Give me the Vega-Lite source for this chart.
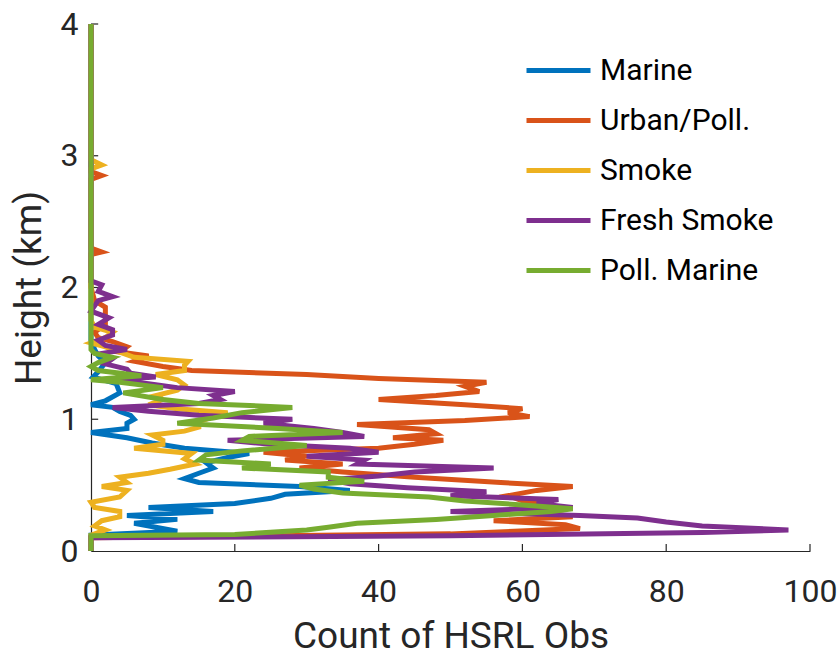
{
  "$schema": "https://vega.github.io/schema/vega-lite/v6.json",
  "width": 719,
  "height": 527,
  "autosize": {"type": "none"},
  "padding": {"left": 91, "top": 24, "right": 27, "bottom": 106},
  "background": "white",
  "config": {
    "view": {"stroke": null},
    "font": "Roboto",
    "axis": {
      "domainColor": "#262626", "tickColor": "#262626", "labelColor": "#262626", "titleColor": "#262626",
      "labelFont": "Roboto", "titleFont": "Roboto", "labelFontSize": 32, "titleFontSize": 37,
      "titleFontWeight": "normal", "grid": false, "ticks": false, "domainWidth": 1.2,
      "labelFlush": false, "labelOverlap": false
    },
    "legend": {"labelFont": "Roboto", "labelFontSize": 30, "labelColor": "#000000"}
  },
  "datasets": {
    "profiles": [
    {"s":"Marine","h":0,"c":0},{"s":"Marine","h":0.12,"c":0},{"s":"Marine","h":0.15,"c":12},{"s":"Marine","h":0.18,"c":9},{"s":"Marine","h":0.21,"c":6},{"s":"Marine","h":0.24,"c":12},{"s":"Marine","h":0.27,"c":5},{"s":"Marine","h":0.30,"c":17},{"s":"Marine","h":0.33,"c":8},{"s":"Marine","h":0.36,"c":20},{"s":"Marine","h":0.40,"c":25},{"s":"Marine","h":0.43,"c":27},{"s":"Marine","h":0.46,"c":36},{"s":"Marine","h":0.49,"c":29},{"s":"Marine","h":0.52,"c":15},{"s":"Marine","h":0.55,"c":13},{"s":"Marine","h":0.59,"c":15},{"s":"Marine","h":0.63,"c":17},{"s":"Marine","h":0.67,"c":16},{"s":"Marine","h":0.71,"c":19},{"s":"Marine","h":0.74,"c":22},{"s":"Marine","h":0.78,"c":13},{"s":"Marine","h":0.82,"c":8.5},{"s":"Marine","h":0.86,"c":5},{"s":"Marine","h":0.90,"c":0},{"s":"Marine","h":0.93,"c":5},{"s":"Marine","h":0.97,"c":5},{"s":"Marine","h":1.00,"c":6},{"s":"Marine","h":1.03,"c":5.5},{"s":"Marine","h":1.06,"c":4},{"s":"Marine","h":1.09,"c":3},{"s":"Marine","h":1.11,"c":0},{"s":"Marine","h":1.14,"c":2},{"s":"Marine","h":1.20,"c":4},{"s":"Marine","h":1.27,"c":3.5},{"s":"Marine","h":1.32,"c":0.3},{"s":"Marine","h":1.36,"c":1},{"s":"Marine","h":1.43,"c":2},{"s":"Marine","h":1.48,"c":1},{"s":"Marine","h":1.53,"c":0.5},{"s":"Marine","h":1.60,"c":0},{"s":"Marine","h":4,"c":0},

    {"s":"Urban/Poll.","h":0,"c":0},{"s":"Urban/Poll.","h":0.10,"c":0},{"s":"Urban/Poll.","h":0.13,"c":50},{"s":"Urban/Poll.","h":0.17,"c":68},{"s":"Urban/Poll.","h":0.20,"c":66},{"s":"Urban/Poll.","h":0.23,"c":56},{"s":"Urban/Poll.","h":0.26,"c":67},{"s":"Urban/Poll.","h":0.30,"c":62},{"s":"Urban/Poll.","h":0.34,"c":64},{"s":"Urban/Poll.","h":0.38,"c":60},{"s":"Urban/Poll.","h":0.42,"c":58},{"s":"Urban/Poll.","h":0.46,"c":62},{"s":"Urban/Poll.","h":0.49,"c":67},{"s":"Urban/Poll.","h":0.52,"c":57},{"s":"Urban/Poll.","h":0.56,"c":45},{"s":"Urban/Poll.","h":0.60,"c":35},{"s":"Urban/Poll.","h":0.63,"c":29},{"s":"Urban/Poll.","h":0.66,"c":35},{"s":"Urban/Poll.","h":0.69,"c":27},{"s":"Urban/Poll.","h":0.72,"c":30},{"s":"Urban/Poll.","h":0.75,"c":24},{"s":"Urban/Poll.","h":0.78,"c":40},{"s":"Urban/Poll.","h":0.81,"c":45},{"s":"Urban/Poll.","h":0.84,"c":49},{"s":"Urban/Poll.","h":0.86,"c":42},{"s":"Urban/Poll.","h":0.89,"c":48},{"s":"Urban/Poll.","h":0.92,"c":47},{"s":"Urban/Poll.","h":0.96,"c":37},{"s":"Urban/Poll.","h":0.99,"c":52},{"s":"Urban/Poll.","h":1.02,"c":61},{"s":"Urban/Poll.","h":1.05,"c":58},{"s":"Urban/Poll.","h":1.08,"c":60},{"s":"Urban/Poll.","h":1.11,"c":52},{"s":"Urban/Poll.","h":1.15,"c":40},{"s":"Urban/Poll.","h":1.18,"c":48},{"s":"Urban/Poll.","h":1.21,"c":54},{"s":"Urban/Poll.","h":1.25,"c":52},{"s":"Urban/Poll.","h":1.28,"c":55},{"s":"Urban/Poll.","h":1.31,"c":40},{"s":"Urban/Poll.","h":1.34,"c":30},{"s":"Urban/Poll.","h":1.37,"c":14},{"s":"Urban/Poll.","h":1.40,"c":10},{"s":"Urban/Poll.","h":1.44,"c":6},{"s":"Urban/Poll.","h":1.48,"c":8},{"s":"Urban/Poll.","h":1.51,"c":4},{"s":"Urban/Poll.","h":1.55,"c":5},{"s":"Urban/Poll.","h":1.59,"c":3},{"s":"Urban/Poll.","h":1.62,"c":1},{"s":"Urban/Poll.","h":1.66,"c":0.5},{"s":"Urban/Poll.","h":1.72,"c":2},{"s":"Urban/Poll.","h":1.78,"c":2},{"s":"Urban/Poll.","h":1.85,"c":2},{"s":"Urban/Poll.","h":1.90,"c":0.5},{"s":"Urban/Poll.","h":2.0,"c":0},{"s":"Urban/Poll.","h":2.25,"c":0},{"s":"Urban/Poll.","h":2.27,"c":1.5},{"s":"Urban/Poll.","h":2.30,"c":0},{"s":"Urban/Poll.","h":2.82,"c":0},{"s":"Urban/Poll.","h":2.85,"c":1.5},{"s":"Urban/Poll.","h":2.88,"c":0},{"s":"Urban/Poll.","h":4,"c":0},

    {"s":"Smoke","h":0,"c":0},{"s":"Smoke","h":0.12,"c":0},{"s":"Smoke","h":0.16,"c":2},{"s":"Smoke","h":0.19,"c":0.5},{"s":"Smoke","h":0.23,"c":1.5},{"s":"Smoke","h":0.26,"c":4},{"s":"Smoke","h":0.30,"c":4},{"s":"Smoke","h":0.33,"c":0.5},{"s":"Smoke","h":0.37,"c":0},{"s":"Smoke","h":0.41,"c":4},{"s":"Smoke","h":0.46,"c":5},{"s":"Smoke","h":0.49,"c":1.5},{"s":"Smoke","h":0.52,"c":5},{"s":"Smoke","h":0.56,"c":4},{"s":"Smoke","h":0.59,"c":8},{"s":"Smoke","h":0.62,"c":11},{"s":"Smoke","h":0.66,"c":14.5},{"s":"Smoke","h":0.70,"c":13},{"s":"Smoke","h":0.74,"c":14},{"s":"Smoke","h":0.78,"c":6},{"s":"Smoke","h":0.81,"c":10},{"s":"Smoke","h":0.84,"c":10},{"s":"Smoke","h":0.88,"c":8.5},{"s":"Smoke","h":0.91,"c":13},{"s":"Smoke","h":0.94,"c":15},{"s":"Smoke","h":0.98,"c":15},{"s":"Smoke","h":1.02,"c":17},{"s":"Smoke","h":1.05,"c":19},{"s":"Smoke","h":1.08,"c":12},{"s":"Smoke","h":1.11,"c":8},{"s":"Smoke","h":1.15,"c":10},{"s":"Smoke","h":1.18,"c":9},{"s":"Smoke","h":1.22,"c":12},{"s":"Smoke","h":1.26,"c":13},{"s":"Smoke","h":1.30,"c":12},{"s":"Smoke","h":1.34,"c":9},{"s":"Smoke","h":1.37,"c":13},{"s":"Smoke","h":1.41,"c":13},{"s":"Smoke","h":1.44,"c":13.5},{"s":"Smoke","h":1.47,"c":6},{"s":"Smoke","h":1.51,"c":4},{"s":"Smoke","h":1.55,"c":2},{"s":"Smoke","h":1.58,"c":0},{"s":"Smoke","h":1.62,"c":2},{"s":"Smoke","h":1.66,"c":3},{"s":"Smoke","h":1.70,"c":0.5},{"s":"Smoke","h":1.75,"c":0},{"s":"Smoke","h":2.90,"c":0},{"s":"Smoke","h":2.93,"c":1.5},{"s":"Smoke","h":2.97,"c":0},{"s":"Smoke","h":4,"c":0},

    {"s":"Fresh Smoke","h":0,"c":0},{"s":"Fresh Smoke","h":0.10,"c":0},{"s":"Fresh Smoke","h":0.115,"c":50},{"s":"Fresh Smoke","h":0.14,"c":85},{"s":"Fresh Smoke","h":0.16,"c":97},{"s":"Fresh Smoke","h":0.19,"c":85},{"s":"Fresh Smoke","h":0.22,"c":80},{"s":"Fresh Smoke","h":0.25,"c":76},{"s":"Fresh Smoke","h":0.27,"c":68},{"s":"Fresh Smoke","h":0.30,"c":50},{"s":"Fresh Smoke","h":0.33,"c":67},{"s":"Fresh Smoke","h":0.36,"c":62},{"s":"Fresh Smoke","h":0.39,"c":65},{"s":"Fresh Smoke","h":0.42,"c":50},{"s":"Fresh Smoke","h":0.45,"c":55},{"s":"Fresh Smoke","h":0.48,"c":44},{"s":"Fresh Smoke","h":0.51,"c":36},{"s":"Fresh Smoke","h":0.54,"c":33},{"s":"Fresh Smoke","h":0.57,"c":40},{"s":"Fresh Smoke","h":0.60,"c":45},{"s":"Fresh Smoke","h":0.63,"c":56},{"s":"Fresh Smoke","h":0.66,"c":37},{"s":"Fresh Smoke","h":0.69,"c":38},{"s":"Fresh Smoke","h":0.72,"c":30},{"s":"Fresh Smoke","h":0.75,"c":40},{"s":"Fresh Smoke","h":0.78,"c":36},{"s":"Fresh Smoke","h":0.81,"c":25},{"s":"Fresh Smoke","h":0.84,"c":19},{"s":"Fresh Smoke","h":0.87,"c":38},{"s":"Fresh Smoke","h":0.90,"c":35},{"s":"Fresh Smoke","h":0.93,"c":31},{"s":"Fresh Smoke","h":0.97,"c":24},{"s":"Fresh Smoke","h":1.00,"c":28},{"s":"Fresh Smoke","h":1.03,"c":15},{"s":"Fresh Smoke","h":1.06,"c":8},{"s":"Fresh Smoke","h":1.09,"c":3},{"s":"Fresh Smoke","h":1.12,"c":15},{"s":"Fresh Smoke","h":1.15,"c":18},{"s":"Fresh Smoke","h":1.18,"c":17},{"s":"Fresh Smoke","h":1.21,"c":20},{"s":"Fresh Smoke","h":1.24,"c":12},{"s":"Fresh Smoke","h":1.27,"c":8},{"s":"Fresh Smoke","h":1.30,"c":3},{"s":"Fresh Smoke","h":1.32,"c":9},{"s":"Fresh Smoke","h":1.35,"c":5.5},{"s":"Fresh Smoke","h":1.38,"c":5},{"s":"Fresh Smoke","h":1.42,"c":2},{"s":"Fresh Smoke","h":1.46,"c":3},{"s":"Fresh Smoke","h":1.50,"c":1.5},{"s":"Fresh Smoke","h":1.53,"c":5},{"s":"Fresh Smoke","h":1.56,"c":2},{"s":"Fresh Smoke","h":1.60,"c":1},{"s":"Fresh Smoke","h":1.64,"c":3},{"s":"Fresh Smoke","h":1.68,"c":3},{"s":"Fresh Smoke","h":1.72,"c":1},{"s":"Fresh Smoke","h":1.77,"c":2.5},{"s":"Fresh Smoke","h":1.82,"c":0},{"s":"Fresh Smoke","h":1.90,"c":1},{"s":"Fresh Smoke","h":1.93,"c":3},{"s":"Fresh Smoke","h":1.97,"c":1},{"s":"Fresh Smoke","h":2.02,"c":1.5},{"s":"Fresh Smoke","h":2.05,"c":0},{"s":"Fresh Smoke","h":4,"c":0},

    {"s":"Poll. Marine","h":0,"c":0},{"s":"Poll. Marine","h":0.115,"c":0},{"s":"Poll. Marine","h":0.125,"c":20},{"s":"Poll. Marine","h":0.16,"c":30},{"s":"Poll. Marine","h":0.18,"c":33},{"s":"Poll. Marine","h":0.21,"c":37},{"s":"Poll. Marine","h":0.24,"c":48},{"s":"Poll. Marine","h":0.27,"c":56},{"s":"Poll. Marine","h":0.30,"c":64},{"s":"Poll. Marine","h":0.32,"c":67},{"s":"Poll. Marine","h":0.35,"c":60},{"s":"Poll. Marine","h":0.38,"c":52},{"s":"Poll. Marine","h":0.41,"c":47},{"s":"Poll. Marine","h":0.44,"c":35},{"s":"Poll. Marine","h":0.47,"c":31},{"s":"Poll. Marine","h":0.50,"c":29},{"s":"Poll. Marine","h":0.53,"c":38},{"s":"Poll. Marine","h":0.56,"c":33},{"s":"Poll. Marine","h":0.60,"c":33},{"s":"Poll. Marine","h":0.63,"c":21},{"s":"Poll. Marine","h":0.66,"c":25},{"s":"Poll. Marine","h":0.69,"c":15},{"s":"Poll. Marine","h":0.73,"c":16},{"s":"Poll. Marine","h":0.76,"c":21},{"s":"Poll. Marine","h":0.80,"c":30},{"s":"Poll. Marine","h":0.84,"c":21},{"s":"Poll. Marine","h":0.87,"c":22},{"s":"Poll. Marine","h":0.90,"c":35},{"s":"Poll. Marine","h":0.93,"c":26},{"s":"Poll. Marine","h":0.97,"c":12},{"s":"Poll. Marine","h":1.01,"c":17},{"s":"Poll. Marine","h":1.05,"c":21},{"s":"Poll. Marine","h":1.09,"c":28},{"s":"Poll. Marine","h":1.12,"c":15},{"s":"Poll. Marine","h":1.15,"c":10},{"s":"Poll. Marine","h":1.20,"c":4.5},{"s":"Poll. Marine","h":1.24,"c":10},{"s":"Poll. Marine","h":1.28,"c":4},{"s":"Poll. Marine","h":1.30,"c":0},{"s":"Poll. Marine","h":1.33,"c":7},{"s":"Poll. Marine","h":1.37,"c":1},{"s":"Poll. Marine","h":1.40,"c":0},{"s":"Poll. Marine","h":1.43,"c":1},{"s":"Poll. Marine","h":1.47,"c":3},{"s":"Poll. Marine","h":1.50,"c":0.5},{"s":"Poll. Marine","h":1.53,"c":0},{"s":"Poll. Marine","h":4,"c":0}
    ],
    "xticks": [{"t": 20}, {"t": 40}, {"t": 60}, {"t": 80}, {"t": 100}],
    "yticks": [{"t": 1}, {"t": 2}, {"t": 3}, {"t": 4}]
  },
  "layer": [
    {
      "data": {"name": "xticks"},
      "mark": {"type": "rule", "color": "#262626", "strokeWidth": 1.2},
      "encoding": {
        "x": {"field": "t", "type": "quantitative"},
        "y": {"datum": 0},
        "y2": {"datum": 0.053}
      }
    },
    {
      "data": {"name": "yticks"},
      "mark": {"type": "rule", "color": "#262626", "strokeWidth": 1.2},
      "encoding": {
        "y": {"field": "t", "type": "quantitative"},
        "x": {"datum": 0},
        "x2": {"datum": 1}
      }
    },
    {
      "data": {"name": "profiles"},
      "mark": {"type": "line", "strokeWidth": 5, "clip": false},
      "encoding": {
        "x": {"field": "c", "type": "quantitative", "scale": {"domain": [0, 100], "nice": false, "zero": true},
              "axis": {"title": "Count of HSRL Obs", "values": [0, 20, 40, 60, 80, 100], "format": "d", "labelPadding": 25, "titlePadding": 11}},
        "y": {"field": "h", "type": "quantitative", "scale": {"domain": [0, 4], "nice": false},
              "axis": {"title": "Height (km)", "values": [0, 1, 2, 3, 4], "format": "d", "labelPadding": 13, "titlePadding": 12}},
        "color": {"field": "s", "type": "nominal",
          "scale": {"domain": ["Marine", "Urban/Poll.", "Smoke", "Fresh Smoke", "Poll. Marine"],
                    "range": ["#0072BD", "#D95319", "#EDB120", "#7E2F8E", "#77AC30"]},
          "legend": {"title": null, "orient": "none", "legendX": 433, "legendY": 12, "symbolType": "stroke",
                     "symbolSize": 4096, "symbolStrokeWidth": 5, "rowPadding": -25, "padding": 0, "labelOffset": 7, "labelLimit": 400}},
        "order": {"field": "h", "type": "quantitative"}
      }
    }
  ]
}
